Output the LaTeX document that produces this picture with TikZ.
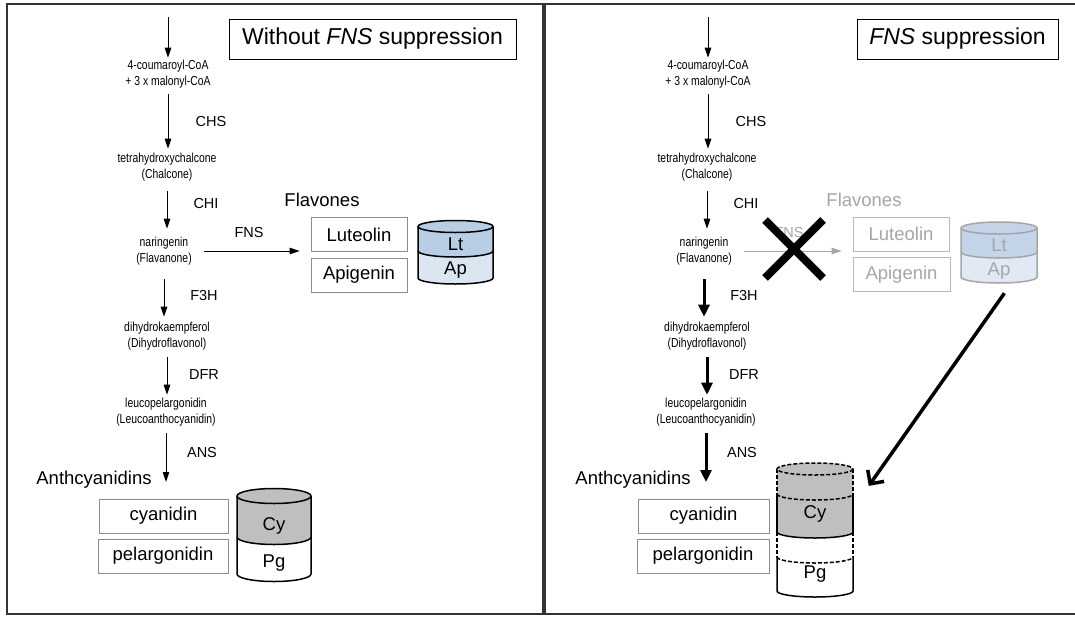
\documentclass[tikz,border=0pt]{standalone}
\usepackage{fontspec}
\setmainfont{Liberation Sans}
\newfontfamily\condfont[FakeStretch=0.8]{Liberation Sans}
\usetikzlibrary{arrows.meta, shapes.misc}
\definecolor{panelgray}{HTML}{333333}
\definecolor{boxgray}{HTML}{8C8C8C}
\definecolor{fadegray}{HTML}{A6A6A6}
\definecolor{ltblue}{HTML}{B9CDE5}
\definecolor{apblue}{HTML}{DCE6F2}
\definecolor{cygray}{HTML}{BFBFBF}

\begin{document}
\begin{tikzpicture}[x=1pt,y=-1pt]
\tikzstyle{panel} = [draw=panelgray,line width=2pt]
\tikzstyle{compound} = [align=center,inner sep=2pt,font=\condfont\fontsize{13}{16}\selectfont]
\tikzstyle{enzyme} = [inner sep=1pt,font=\fontsize{14.5}{16}\selectfont]
\tikzstyle{headline} = [draw=black,line width=0.9pt,minimum height=40pt,font=\fontsize{23}{26}\selectfont]
\tikzstyle{classlbl} = [inner sep=1pt,font=\fontsize{18.5}{20}\selectfont]
\tikzstyle{itembox} = [draw=boxgray,line width=0.8pt,minimum height=34pt,font=\fontsize{18.5}{20}\selectfont]
\tikzstyle{itembox2} = [itembox,draw=fadegray!80,text=fadegray]
\tikzstyle{cyllbl} = [font=\fontsize{18.5}{20}\selectfont]
\tikzstyle{cylspot} = [inner sep=0pt]
\tikzstyle{cylline} = [draw=black,line width=1.5pt]
\tikzstyle{cylline2} = [draw=fadegray,line width=1.5pt]
\tikzstyle{cyldash} = [cylline,dash pattern=on 4pt off 2pt]
\tikzstyle{arr} = [-{Triangle[length=10pt,width=6.5pt]},line width=1pt]
\tikzstyle{arr2} = [arr,draw=fadegray,fill=fadegray]
\tikzstyle{thickarr} = [-{Triangle[length=12pt,width=11pt]},line width=3pt]
\tikzstyle{bigarr} = [-{Straight Barb[length=10pt,width=20pt]},line width=3.5pt]
\useasboundingbox (0,0) rectangle (1075,616);
\fill[white] (0,0) rectangle (1075,616);

% panels
\draw[panel] (7,4) rectangle (543,614);
\draw[panel] (545,4) rectangle (1085,614);

% ---- left: without FNS suppression ----
\node[headline,minimum width=287pt] (titleL) at (372.5,39) {Without \textit{FNS} suppression};
\coordinate (entryL) at (168,17);
\node[compound] (c1L) at (168,74) {4-coumaroyl-CoA\\+ 3 x malonyl-CoA};
\node[compound] (c2L) at (167,167) {tetrahydroxychalcone\\(Chalcone)};
\node[compound] (c3L) at (164,251) {naringenin\\(Flavanone)};
\node[compound] (c4L) at (167,336) {dihydrokaempferol\\(Dihydroflavonol)};
\node[compound] (c5L) at (166,412) {leucopelargonidin\\(Leucoanthocyanidin)};
\node[enzyme] (chsL) at (211,122) {CHS};
\node[enzyme] (chiL) at (206,204) {CHI};
\node[enzyme] (f3hL) at (204,296) {F3H};
\node[enzyme] (dfrL) at (204,375) {DFR};
\node[enzyme] (ansL) at (202,453) {ANS};
\node[enzyme] (fnsL) at (249,233) {FNS};
\node[classlbl] (flavL) at (322,200) {Flavones};
\node[itembox,minimum width=96pt] (lutL) at (359,234.5) {Luteolin};
\node[itembox,minimum width=96pt] (apiL) at (359,275) {Apigenin};
\node[classlbl] (anthL) at (94,480) {Anthcyanidins};
\node[itembox,minimum width=129pt] (cyaL) at (163.5,516) {cyanidin};
\node[itembox,minimum width=130pt] (pelL) at (163,556) {pelargonidin};

\draw[arr] (entryL) -- (c1L.north);
\draw[arr,shorten <=4pt,shorten >=2pt] (c1L.south) -- (c1L.south |- c2L.north);
\draw[arr,shorten <=8pt,shorten >=6pt] (c2L.south) -- (c2L.south |- c3L.north);
\draw[arr,shorten <=12pt,shorten >=3pt] (c3L.south) -- (c3L.south |- c4L.north);
\draw[arr,shorten <=5pt,shorten >=1pt] (c4L.south) -- (c4L.south |- c5L.north);
\draw[arr,shorten <=5pt,shorten >=-2pt] (c5L.south) -- (c5L.south |- anthL.east);
\draw[arr,shorten <=10pt,shorten >=11pt] (c3L.east) -- (c3L.east -| lutL.west);

% flavone store
\fill[ltblue] (418,226.5) -- (418,251) arc[start angle=180,end angle=0,x radius=37.5,y radius=6] -- (493,226.5) -- cycle;
\fill[apblue] (418,251) -- (418,278) arc[start angle=180,end angle=0,x radius=37.5,y radius=6] -- (493,251) arc[start angle=0,end angle=180,x radius=37.5,y radius=6] -- cycle;
\draw[cylline] (418,226.5) -- (418,278) arc[start angle=180,end angle=0,x radius=37.5,y radius=6] -- (493,226.5);
\draw[cylline] (418,251) arc[start angle=180,end angle=0,x radius=37.5,y radius=6];
\draw[cylline,fill=ltblue] (455.5,226.5) ellipse[x radius=37.5,y radius=6];
\node[cyllbl] (ltL) at (455.5,244) {Lt};
\node[cyllbl] (apL) at (455.5,270) {Ap};

% anthocyanidin store
\fill[cygray] (237,496) -- (237,537) arc[start angle=180,end angle=0,x radius=37,y radius=7.5] -- (311,496) -- cycle;
\fill[white] (237,537) -- (237,574) arc[start angle=180,end angle=0,x radius=37,y radius=7.5] -- (311,537) arc[start angle=0,end angle=180,x radius=37,y radius=7.5] -- cycle;
\draw[cylline] (237,496) -- (237,574) arc[start angle=180,end angle=0,x radius=37,y radius=7.5] -- (311,496);
\draw[cylline] (237,537) arc[start angle=180,end angle=0,x radius=37,y radius=7.5];
\draw[cylline,fill=cygray] (274,496) ellipse[x radius=37,y radius=7.5];
\node[cyllbl] (cyL) at (274,526) {Cy};
\node[cyllbl] (pgL) at (274,563) {Pg};

% ---- right: FNS suppression ----
\node[headline,minimum width=201pt] (titleR) at (957.5,39) {\textit{FNS} suppression};
\coordinate (entryR) at (708,17);
\node[compound] (c1R) at (708,74) {4-coumaroyl-CoA\\+ 3 x malonyl-CoA};
\node[compound] (c2R) at (707,167) {tetrahydroxychalcone\\(Chalcone)};
\node[compound] (c3R) at (704,251) {naringenin\\(Flavanone)};
\node[compound] (c4R) at (707,336) {dihydrokaempferol\\(Dihydroflavonol)};
\node[compound] (c5R) at (706,412) {leucopelargonidin\\(Leucoanthocyanidin)};
\node[enzyme] (chsR) at (751,122) {CHS};
\node[enzyme] (chiR) at (746,204) {CHI};
\node[enzyme] (f3hR) at (744,296) {F3H};
\node[enzyme] (dfrR) at (744,375) {DFR};
\node[enzyme] (ansR) at (742,453) {ANS};
\node[enzyme,text=fadegray] (fnsR) at (789,233) {FNS};
\node[classlbl,text=fadegray] (flavR) at (864,200) {Flavones};
\node[itembox2,minimum width=96pt] (lutR) at (901,234) {Luteolin};
\node[itembox2,minimum width=97pt] (apiR) at (901.5,274.5) {Apigenin};
\node[classlbl] (anthR) at (633,480) {Anthcyanidins};
\node[itembox,minimum width=131pt] (cyaR) at (703.5,516) {cyanidin};
\node[itembox,minimum width=132pt] (pelR) at (703,556) {pelargonidin};

\draw[arr] (entryR) -- (c1R.north);
\draw[arr,shorten <=4pt,shorten >=2pt] (c1R.south) -- (c1R.south |- c2R.north);
\draw[arr,shorten <=8pt,shorten >=6pt] (c2R.south) -- (c2R.south |- c3R.north);
\draw[thickarr,shorten <=12pt,shorten >=3pt] (c3R.south) -- (c3R.south |- c4R.north);
\draw[thickarr,shorten <=5pt,shorten >=1pt] (c4R.south) -- (c4R.south |- c5R.north);
\draw[thickarr,shorten <=5pt,shorten >=-2pt] (c5R.south) -- (c5R.south |- anthR.east);
\draw[arr2,shorten <=10pt,shorten >=11pt] (c3R.east) -- (c3R.east -| lutR.west);
\node[cross out,draw=black,line width=8pt,inner sep=0pt,minimum size=50pt] (blockR) at (794,249) {};

% flavone store, faded
\fill[ltblue!85] (961,228) -- (961,252) arc[start angle=180,end angle=0,x radius=38,y radius=6] -- (1037,228) -- cycle;
\fill[apblue!85] (961,252) -- (961,277) arc[start angle=180,end angle=0,x radius=38,y radius=6] -- (1037,252) arc[start angle=0,end angle=180,x radius=38,y radius=6] -- cycle;
\draw[cylline2] (961,228) -- (961,277) arc[start angle=180,end angle=0,x radius=38,y radius=6] -- (1037,228);
\draw[cylline2] (961,252) arc[start angle=180,end angle=0,x radius=38,y radius=6];
\draw[cylline2,fill=ltblue!85] (999,228) ellipse[x radius=38,y radius=6];
\node[cyllbl,text=fadegray] (ltR) at (999,245) {Lt};
\node[cyllbl,text=fadegray] (apR) at (999,271) {Ap};

% enlarged anthocyanidin store
\fill[cygray] (777,469) -- (777,532) arc[start angle=180,end angle=0,x radius=38,y radius=6] -- (853,469) -- cycle;
\fill[white] (777,532) -- (777,591) arc[start angle=180,end angle=0,x radius=38,y radius=6] -- (853,532) arc[start angle=0,end angle=180,x radius=38,y radius=6] -- cycle;
\draw[cyldash] (777,469) -- (777,494);
\draw[cyldash] (853,469) -- (853,494);
\draw[cylline] (777,494) -- (777,532);
\draw[cylline] (853,494) -- (853,532);
\draw[cyldash] (777,532) -- (777,557);
\draw[cyldash] (853,532) -- (853,557);
\draw[cylline] (777,557) -- (777,591) arc[start angle=180,end angle=0,x radius=38,y radius=6] -- (853,557);
\draw[cylline] (777,532) arc[start angle=180,end angle=0,x radius=38,y radius=6];
\draw[cyldash] (777,494) arc[start angle=180,end angle=0,x radius=38,y radius=6];
\draw[cyldash] (777,557) arc[start angle=180,end angle=0,x radius=38,y radius=6];
\draw[cyldash,fill=cygray] (815,469) ellipse[x radius=38,y radius=6];
\node[cyllbl] (cyR) at (815,514) {Cy};
\node[cyllbl] (pgR) at (815,574) {Pg};

\node[cylspot,minimum width=76pt,minimum height=64pt] (flcylR) at (999,252) {};
\node[cylspot,minimum width=76pt,minimum height=134pt] (accylR) at (815,530) {};
\draw[bigarr,shorten <=11pt,shorten >=27pt] (flcylR.-70) -- (accylR.30);
\end{tikzpicture}
\end{document}
